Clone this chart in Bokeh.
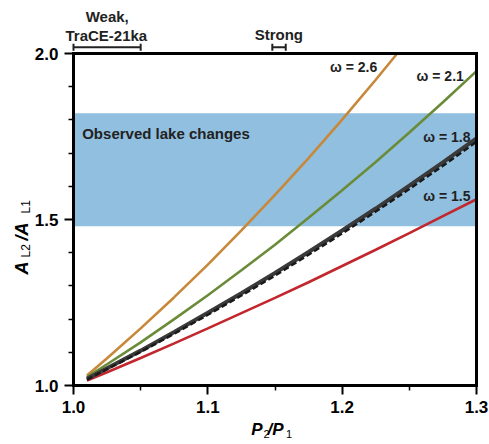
import math
from bokeh.plotting import figure
from bokeh.models import (Range1d, FixedTicker, NumeralTickFormatter, BoxAnnotation,
                          Label, Whisker, TeeHead, ColumnDataSource, LinearAxis)
from bokeh.embed import file_html
from bokeh.resources import INLINE

# ---- data ----
p_orange = [1.01, 1.025, 1.05, 1.075, 1.10, 1.125, 1.15, 1.175, 1.20, 1.225, 1.241]
a_orange = [1.03, 1.082, 1.172, 1.266, 1.364, 1.467, 1.574, 1.685, 1.801, 1.921, 2.0]  # omega = 2.6

p_curve = [1.01, 1.025, 1.05, 1.075, 1.10, 1.125, 1.15, 1.175, 1.20, 1.225, 1.25, 1.275, 1.30]
a_green = [1.025, 1.064, 1.130, 1.200, 1.272, 1.347, 1.424, 1.505, 1.588, 1.673, 1.762, 1.853, 1.947]  # omega = 2.1
a_black = [1.02, 1.052, 1.105, 1.161, 1.219, 1.278, 1.339, 1.402, 1.467, 1.533, 1.602, 1.672, 1.744]  # omega = 1.8
a_black_dash = [1.018, 1.049, 1.101, 1.156, 1.213, 1.271, 1.331, 1.394, 1.458, 1.524, 1.592, 1.662, 1.734]
a_red = [1.015, 1.040, 1.083, 1.127, 1.172, 1.218, 1.264, 1.311, 1.360, 1.409, 1.459, 1.510, 1.561]  # omega = 1.5

band_low, band_high = 1.48, 1.82
x_ticks = [1.0, 1.1, 1.2, 1.3]
x_minor = [1.05, 1.15, 1.25]
y_ticks = [1.0, 1.5, 2.0]
y_minor = [1.1, 1.2, 1.3, 1.4, 1.6, 1.7, 1.8, 1.9]
bracket_lower = [1.0, 1.148]
bracket_upper = [1.05, 1.158]

FONT = "Liberation Sans"
W, H = 489, 444
# frame spans the whole canvas; the drawn axes sit at fixed data locations
XL, XR = 1.0 - 73 / 1343.33, 1.3 + 13 / 1343.33
YB, YT = 1.0 - 59 / 332.0, 2.0 + 53 / 332.0

p = figure(width=W, height=H, output_backend="svg", toolbar_location=None,
           x_range=Range1d(XL, XR), y_range=Range1d(YB, YT),
           x_axis_location=None, y_axis_location=None,
           min_border=0, min_border_left=0, min_border_right=0,
           min_border_top=0, min_border_bottom=0)
p.grid.visible = False
p.outline_line_color = None
p.background_fill_color = "white"
p.border_fill_color = "white"

def style_axis(ax):
    ax.axis_line_width = 3
    ax.axis_line_cap = "square"
    ax.major_tick_line_width = 2
    ax.minor_tick_line_width = 1.5
    ax.major_tick_out = 9
    ax.major_tick_in = 0
    ax.minor_tick_out = 5
    ax.minor_tick_in = 0
    ax.major_label_text_font = FONT
    ax.major_label_text_font_style = "bold"
    ax.major_label_text_font_size = "17px"
    ax.major_label_text_color = "black"
    ax.formatter = NumeralTickFormatter(format="0.0")

xax = LinearAxis(fixed_location=1.0, bounds=(1.0, 1.3),
                 ticker=FixedTicker(ticks=x_ticks, minor_ticks=x_minor))
style_axis(xax)
xax.major_label_standoff = 6
p.add_layout(xax, "below")

yax = LinearAxis(fixed_location=1.0, bounds=(1.0, 2.0),
                 ticker=FixedTicker(ticks=y_ticks, minor_ticks=y_minor))
style_axis(yax)
yax.major_label_standoff = 6
p.add_layout(yax, "left")

# top and right edges of the box
for place, loc, bnds in (("above", 2.0, (1.0, 1.3)), ("right", 1.3, (1.0, 2.0))):
    ax = LinearAxis(fixed_location=loc, bounds=bnds, ticker=FixedTicker(ticks=[], minor_ticks=[]))
    ax.axis_line_width = 3
    ax.axis_line_cap = "square"
    ax.major_tick_line_color = None
    ax.minor_tick_line_color = None
    ax.major_label_text_color = None
    p.add_layout(ax, place)

p.add_layout(BoxAnnotation(bottom=band_low, top=band_high, left=1.0, right=1.3,
                           fill_color="#91bfdf", fill_alpha=1.0, line_color=None,
                           level="underlay"))

p.line(p_orange, a_orange, line_color="#c8883a", line_width=2.6)
p.line(p_curve, a_green, line_color="#6a8c38", line_width=2.6)
p.line(p_curve, a_red, line_color="#c1272d", line_width=2.6)
p.line(p_curve, a_black, line_color="#3a3a3a", line_width=4)
p.line(p_curve, a_black_dash, line_color="#1a1a1a", line_width=2.5, line_dash="6 3")

def lab(x, y, t, size="14px", align="left", baseline="alphabetic", style="bold", angle=0, color="#222222"):
    p.add_layout(Label(x=x, y=y, text=t, text_font=FONT, text_font_style=style,
                       text_font_size=size, text_align=align, text_baseline=baseline,
                       angle=angle, text_color=color))

lab(1.22607, 1.9587, "ω = 2.6", align="right")
lab(1.29055, 1.93369, "ω = 2.1", align="right")
lab(1.29553, 1.74995, "ω = 1.8", align="right")
lab(1.29553, 1.57134, "ω = 1.5", align="right")
lab(1.00648, 1.75808, "Observed lake changes", size="15px")

lab(1.02509, 2.1129, "Weak,", size="15px", align="center")
lab(1.02444, 2.05327, "TraCE-21ka", size="15px", align="center")
lab(1.15283, 2.05628, "Strong", size="15px", align="center")

src = ColumnDataSource(dict(base=[2.019, 2.019], lower=bracket_lower, upper=bracket_upper))
p.add_layout(Whisker(source=src, base="base", lower="lower", upper="upper", dimension="width",
                     line_width=2, line_color="#222222",
                     lower_head=TeeHead(size=7, line_width=2, line_color="#222222"),
                     upper_head=TeeHead(size=7, line_width=2, line_color="#222222")))

# x axis label P2/P1
lab(1.13228, 0.86652, "P", size="17px", style="bold italic", color="black")
lab(1.14144, 0.85387, "2", size="11px", style="normal", color="black")
lab(1.14442, 0.86652, "/P", size="17px", style="bold italic", color="black")
lab(1.15819, 0.85387, "1", size="11px", style="normal", color="black")

# y axis label AL2/AL1
ang = math.pi / 2
lab(0.96201, 1.3343, "A", size="18px", style="bold italic", angle=ang, color="black")
lab(0.96462, 1.3855, "L2", size="12px", style="normal", angle=ang, color="black")
lab(0.96201, 1.4367, "/A", size="18px", style="bold italic", angle=ang, color="black")
lab(0.96462, 1.5181, "L1", size="12px", style="normal", angle=ang, color="black")

open("out.html", "w").write(file_html(p, INLINE))
